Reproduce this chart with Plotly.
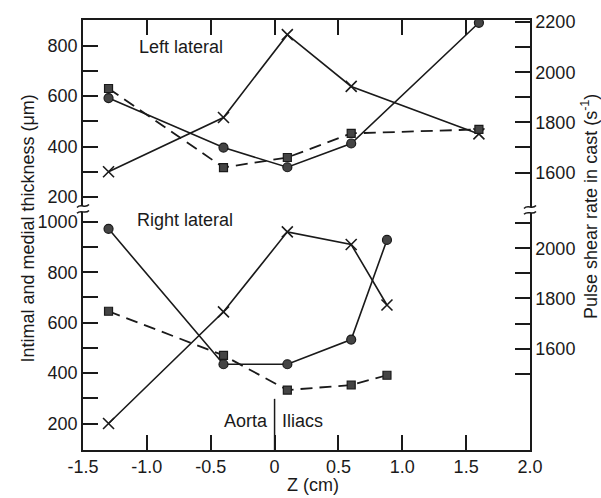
import plotly.graph_objects as go

# ---------------- data ----------------
z_left = [-1.3, -0.4, 0.1, 0.6, 1.6]
left_cross = [300, 515, 843, 638, 450]          # left axis (um)
left_circle = [592, 396, 318, 412, 890]         # left axis (um)
left_square = [1935, 1620, 1660, 1756, 1772]    # right axis (s^-1)

z_right = [-1.3, -0.4, 0.1, 0.6, 0.88]
right_cross = [200, 643, 960, 910, 670]         # left axis (um)
right_circle = [972, 435, 435, 533, 928]        # left axis (um)
right_square = [1749, 1573, 1435, 1455, 1494]   # right axis (s^-1)

x_ticks = [-1.5, -1.0, -0.5, 0, 0.5, 1.0, 1.5, 2.0]
x_ticktext = ["-1.5", "-1.0", "-0.5", "0", "0.5", "1.0", "1.5", "2.0"]
top_left_ticks = [200, 300, 400, 500, 600, 700, 800]
top_right_ticks = [1600, 1700, 1800, 1900, 2000, 2100, 2200]
bot_left_ticks = [200, 300, 400, 500, 600, 700, 800, 900, 1000]
bot_right_ticks = [1500, 1600, 1700, 1800, 1900, 2000, 2100]

# ---------------- geometry helpers ----------------
L, R, T, B = 83, 530, 13, 450
W, H = 601, 498


def px(xp):
    return (xp - L) / (R - L)


def py(yp):
    return (B - yp) / (B - T)


SPLIT = py(205)
INK = "#1a1a1a"
FONT = "Liberation Sans, Arial, sans-serif"


def labels(vals, keep):
    return [str(v) if v in keep else "" for v in vals]


fig = go.Figure()

line_cross = dict(color=INK, width=1.6)
mk_cross = dict(symbol="x-thin-open", size=11, line=dict(color=INK, width=1.6), color=INK)
mk_circle = dict(symbol="circle", size=9, color="#444", line=dict(color=INK, width=1.2))
mk_square = dict(symbol="square", size=8, color="#444", line=dict(color=INK, width=1.2))

# top panel (Left lateral)
fig.add_trace(go.Scatter(x=z_left, y=left_cross, xaxis="x", yaxis="y", mode="lines+markers",
                         line=line_cross, marker=mk_cross, showlegend=False))
fig.add_trace(go.Scatter(x=z_left, y=left_circle, xaxis="x", yaxis="y", mode="lines+markers",
                         line=dict(color=INK, width=1.6), marker=mk_circle, showlegend=False))
fig.add_trace(go.Scatter(x=z_left, y=left_square, xaxis="x", yaxis="y2", mode="lines+markers",
                         line=dict(color=INK, width=1.8, dash="12px,7px"), marker=mk_square,
                         showlegend=False))
# bottom panel (Right lateral)
fig.add_trace(go.Scatter(x=z_right, y=right_cross, xaxis="x", yaxis="y3", mode="lines+markers",
                         line=line_cross, marker=mk_cross, showlegend=False))
fig.add_trace(go.Scatter(x=z_right, y=right_circle, xaxis="x", yaxis="y3", mode="lines+markers",
                         line=dict(color=INK, width=1.6), marker=mk_circle, showlegend=False))
fig.add_trace(go.Scatter(x=z_right, y=right_square, xaxis="x", yaxis="y4", mode="lines+markers",
                         line=dict(color=INK, width=1.8, dash="12px,7px"), marker=mk_square,
                         showlegend=False))

tickfont = dict(family=FONT, size=18, color=INK)
common = dict(showline=True, linecolor=INK, linewidth=1.5, showgrid=False, zeroline=False,
              ticks="inside", ticklen=15, tickwidth=1.5, tickcolor=INK, tickfont=tickfont,
              tickmode="array")

fig.update_layout(
    width=W, height=H,
    margin=dict(l=L, r=W - R, t=T, b=H - B, pad=0),
    paper_bgcolor="white", plot_bgcolor="white",
    xaxis=dict(domain=[0, 1], range=[-1.5, 2.0], anchor="y3", side="bottom",
               tickvals=x_ticks, ticktext=x_ticktext, **common),
    xaxis2=dict(domain=[0, 1], range=[-1.5, 2.0], overlaying="x", anchor="y", side="top",
                tickvals=x_ticks, showticklabels=False, **{k: v for k, v in common.items() if k != "tickfont"}),
    yaxis=dict(domain=[SPLIT, 1], range=[153, 901], anchor="x", side="left",
               tickvals=top_left_ticks, ticktext=labels(top_left_ticks, {200, 400, 600, 800}), **common),
    yaxis2=dict(range=[1455, 2208], overlaying="y", anchor="x", side="right",
                tickvals=top_right_ticks, ticktext=labels(top_right_ticks, {1600, 1800, 2000, 2200}), **common),
    yaxis3=dict(domain=[0, SPLIT], range=[95, 1051], anchor="x", side="left",
                tickvals=bot_left_ticks, ticktext=labels(bot_left_ticks, {200, 400, 600, 800, 1000}), **common),
    yaxis4=dict(range=[1196, 2157], overlaying="y3", anchor="x", side="right",
                tickvals=bot_right_ticks, ticktext=labels(bot_right_ticks, {1600, 1800, 2000}), **common),
)

# invisible trace to activate xaxis2
fig.add_trace(go.Scatter(x=[None], y=[None], xaxis="x2", yaxis="y", showlegend=False, hoverinfo="skip"))

shapes = []
# axis breaks
for cx, cy in [(L, 205), (R, 206)]:
    shapes.append(dict(type="rect", xref="paper", yref="paper", x0=px(cx - 3), x1=px(cx + 3),
                       y0=py(cy + 3), y1=py(cy - 3), fillcolor="white", line=dict(width=0), layer="above"))
    for dy in (-3, 3):
        y0 = cy + dy
        path = (f"M {px(cx - 6)},{py(y0 + 1.5)} C {px(cx - 2)},{py(y0 - 3)} {px(cx + 2)},{py(y0 + 3)} "
                f"{px(cx + 6)},{py(y0 - 1.5)}")
        shapes.append(dict(type="path", xref="paper", yref="paper", path=path,
                           line=dict(color=INK, width=1.5), layer="above"))
# Aorta | Iliacs divider
shapes.append(dict(type="line", xref="x", yref="paper", x0=0, x1=0, y0=0, y1=py(398),
                   line=dict(color=INK, width=1.5)))
fig.update_layout(shapes=shapes)

txt = dict(family=FONT, size=18, color=INK)


def note(text, x, y, xanchor="center", **kw):
    return dict(text=text, x=px(x), y=py(y), xref="paper", yref="paper", xanchor=xanchor,
                yanchor="middle", showarrow=False, font=txt, **kw)


fig.update_layout(annotations=[
    note("Left lateral", 181, 40),
    note("Right lateral", 185, 216),
    note("Aorta", 270, 421, xanchor="right"),
    note("Iliacs", 280, 421, xanchor="left"),
    note("Intimal and medial thickness (\u03bcm)", 28, 225, textangle=-90),
    note("Pulse shear rate in cast (s<sup>-1</sup>)", 590, 203, textangle=-90),
    note("Z (cm)", 313, 486),
])

fig.write_html("out.html")
